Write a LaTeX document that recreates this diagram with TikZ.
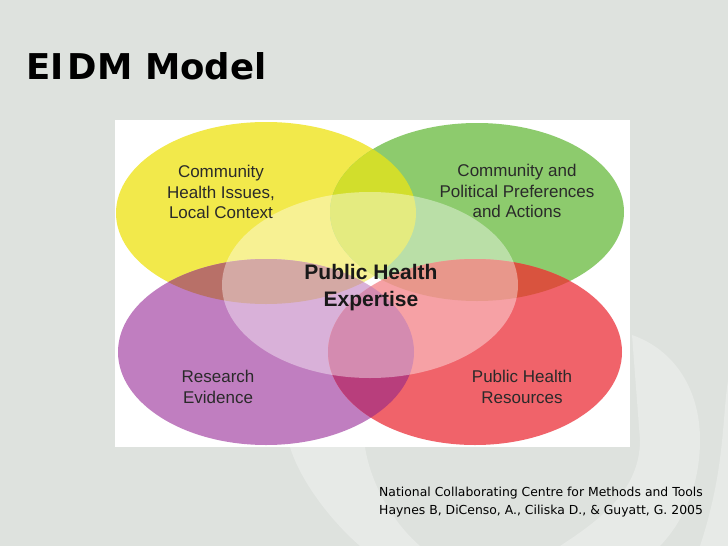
\documentclass[tikz,border=0pt]{standalone}
\usepackage{fontspec}
\setmainfont{Liberation Sans}
\newfontfamily\verd{DejaVu Sans}
\definecolor{bgc}{HTML}{DEE2DE}
\definecolor{swl}{HTML}{E7EAE7}
\definecolor{ycol}{HTML}{F2E94B}
\definecolor{gcol}{HTML}{8DCB6D}
\definecolor{pcol}{HTML}{C07EC0}
\definecolor{rcol}{HTML}{F0636A}
\definecolor{ygc}{HTML}{D2DE2C}
\definecolor{ypc}{HTML}{B87068}
\definecolor{grc}{HTML}{D9533E}
\definecolor{prc}{HTML}{B83E7C}
\definecolor{txt}{HTML}{2A2A2A}
\tikzset{
  lbl/.style={text=txt, align=center, font=\fontsize{17}{20.5}\selectfont, inner sep=0pt},
  clbl/.style={text=black!90, align=center, font=\fontsize{21}{27}\selectfont\bfseries, inner sep=0pt},
}
\begin{document}
\begin{tikzpicture}[x=1pt,y=-1pt]
\useasboundingbox (0,0) rectangle (728,546);
\fill[bgc] (0,0) rectangle (728,546);
% decorative swirls
\fill[swl] (632,335) .. controls (675,350) and (700,390) .. (700,440)
  .. controls (700,490) and (680,525) .. (660,546) -- (560,546)
  .. controls (600,520) and (640,490) .. (640,440) -- cycle;
\fill[swl] (728,380) .. controls (722,420) and (725,470) .. (700,546) -- (728,546) -- cycle;
\fill[swl] (290,447) .. controls (300,480) and (330,520) .. (360,546) -- (420,546)
  .. controls (390,520) and (370,480) .. (365,447) -- cycle;
% white panel
\fill[white] (115,120) rectangle (630,447);
% base ellipses
\fill[ycol] (266,213) ellipse [x radius=150, y radius=91];
\fill[gcol] (477,212) ellipse [x radius=147, y radius=89];
\fill[pcol] (266,352) ellipse [x radius=148, y radius=93];
\fill[rcol] (475,352) ellipse [x radius=147, y radius=93];
% overlaps
\begin{scope}
  \clip (266,213) ellipse [x radius=150, y radius=91];
  \fill[ygc] (477,212) ellipse [x radius=147, y radius=89];
  \fill[ypc] (266,352) ellipse [x radius=148, y radius=93];
\end{scope}
\begin{scope}
  \clip (475,352) ellipse [x radius=147, y radius=93];
  \fill[grc] (477,212) ellipse [x radius=147, y radius=89];
  \fill[prc] (266,352) ellipse [x radius=148, y radius=93];
\end{scope}
% central translucent ellipse
\fill[white, fill opacity=0.4] (370,285) ellipse [x radius=148, y radius=93];
% labels
\node[lbl] (ly) at (221,192) {Community\\Health Issues,\\Local Context};
\node[lbl] (lg) at (517,191) {Community and\\Political Preferences\\and Actions};
\node[lbl] (lp) at (218,387) {Research\\Evidence};
\node[lbl] (lr) at (522,387) {Public Health\\Resources};
\node[clbl] (lc) at (371,288) {Public Health\\Expertise};
% title
\node[anchor=west, inner sep=0pt, font=\verd\fontsize{35.5}{40}\selectfont\bfseries] (title) at (26,66) {EI\hspace{0.12em}DM Model};
% citation
\node[anchor=west, inner sep=0pt, align=left, text=black, font=\verd\fontsize{12.4}{18}\selectfont] (cite) at (379,502) {National Collaborating Centre for Methods and Tools\\Haynes B, DiCenso, A., Ciliska D., \& Guyatt, G. 2005};
\end{tikzpicture}
\end{document}
